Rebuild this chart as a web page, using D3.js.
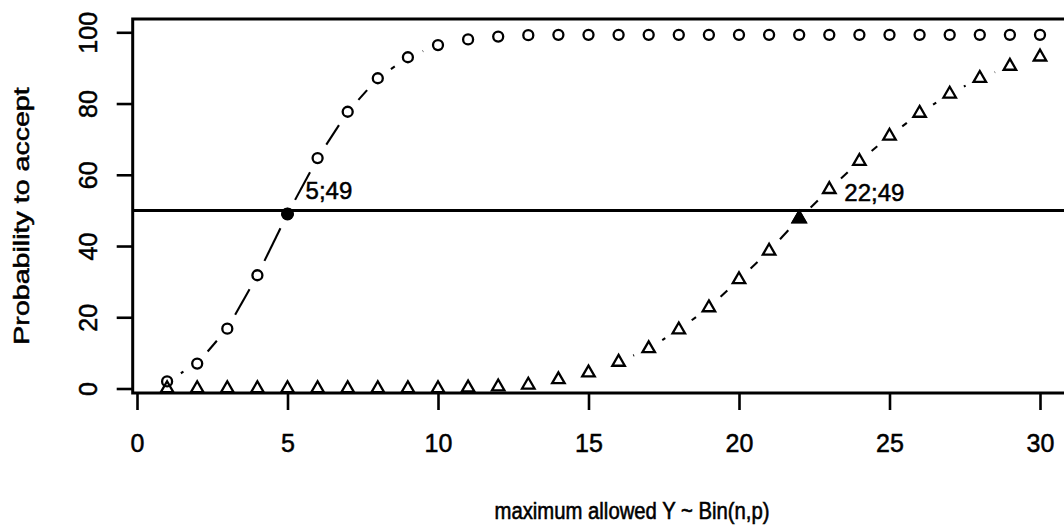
<!DOCTYPE html>
<html>
<head>
<meta charset="utf-8">
<script src="https://cdn.jsdelivr.net/npm/d3@7"></script>
<style>
  body { margin: 0; background: #fff; }
  text { font-family: "Liberation Sans", Arial, sans-serif; fill: #000; stroke: #000; stroke-width: 0.5; }
</style>
</head>
<body>
<script>
// maximum allowed Y (x positions)
let maxY = d3.range(1, 31)

// probability to accept (%), circles = first plan, triangles = second plan
let probCircle = [2.0, 7.0, 16.8, 31.8, 49.0, 64.7, 77.7, 87.1, 93.0, 96.4,
                  98.0, 98.8, 99.2, 99.3, 99.3, 99.3, 99.3, 99.3, 99.3, 99.3,
                  99.3, 99.3, 99.3, 99.3, 99.3, 99.3, 99.3, 99.3, 99.3, 99.3]
let probTriangle = [0, 0, 0, 0, 0, 0, 0, 0, 0, 0,
                    0.2, 0.5, 1.0, 2.5, 4.4, 7.4, 11.2, 16.5, 22.7, 30.6,
                    38.6, 47.7, 55.9, 63.8, 70.9, 77.3, 82.7, 87.1, 90.5, 93.1]

let xTicks = [0, 5, 10, 15, 20, 25, 30]
let yTicks = [0, 20, 40, 60, 80, 100]

let refLevel = 50
// highlighted points and their labels
let highlights = [
    { x: 5, y: 49, shape: "circle", label: "5;49", lx: 5.6, ly: 53.2 },
    { x: 22, y: 47.7, shape: "triangle", label: "22;49", lx: 23.5, ly: 52.6 }
]

let width = 1064,
    height = 525

let svg = d3.select("body").append("svg")
    .attr("width", width)
    .attr("height", height)

let x = d3.scaleLinear().domain([0, 30]).range([137, 1040])
let y = d3.scaleLinear().domain([0, 100]).range([388.5, 32.3])

let box = { left: 132.7, top: 19, right: 1070, bottom: 393 }

// plot frame
svg.append("rect")
    .attr("x", box.left)
    .attr("y", box.top)
    .attr("width", box.right - box.left)
    .attr("height", box.bottom - box.top)
    .attr("fill", "none")
    .attr("stroke", "#000")
    .attr("stroke-width", 3)

// x axis
let xAxis = svg.append("g")
    .attr("transform", `translate(0,${box.bottom})`)
    .call(d3.axisBottom(x).tickValues(xTicks).tickSize(17).tickPadding(24).tickSizeOuter(0))
xAxis.select(".domain").remove()
xAxis.selectAll("line").attr("stroke", "#000").attr("stroke-width", 2.6)
xAxis.selectAll("text")
    .attr("font-size", 25)
    .attr("font-family", "Liberation Sans, Arial, sans-serif")
    .attr("fill", "#000")

// y axis, labels rotated like R's default
let yAxis = svg.append("g")
    .attr("transform", `translate(${box.left},0)`)
    .call(d3.axisLeft(y).tickValues(yTicks).tickSize(16).tickSizeOuter(0))
yAxis.select(".domain").remove()
yAxis.selectAll("line").attr("stroke", "#000").attr("stroke-width", 2.6)
yAxis.selectAll("text")
    .attr("font-size", 25)
    .attr("font-family", "Liberation Sans, Arial, sans-serif")
    .attr("fill", "#000")
    .attr("x", null).attr("dy", null)
    .attr("text-anchor", "middle")
    .attr("transform", "translate(-36,0) rotate(-90)")

// axis titles
svg.append("text")
    .attr("transform", "translate(632,519) scale(1,1.18)")
    .attr("text-anchor", "middle")
    .attr("font-size", 20.3)
    .text("maximum allowed Y ~ Bin(n,p)")

svg.append("text")
    .attr("transform", "translate(29,216) rotate(-90) scale(1.3,1)")
    .attr("text-anchor", "middle")
    .attr("font-size", 22)
    .text("Probability to accept")

// reference line at 50%
svg.append("line")
    .attr("x1", box.left).attr("x2", box.right)
    .attr("y1", y(refLevel)).attr("y2", y(refLevel))
    .attr("stroke", "#000")
    .attr("stroke-width", 3)

// type="b" style: segments with a gap around each point
function gappedSegments(values, gap) {
    let segs = []
    for (let i = 1; i < values.length; i++) {
        let x0 = x(maxY[i - 1]), y0 = y(values[i - 1])
        let x1 = x(maxY[i]), y1 = y(values[i])
        let len = Math.hypot(x1 - x0, y1 - y0)
        if (len <= 2 * gap) continue
        let ux = (x1 - x0) / len, uy = (y1 - y0) / len
        segs.push([x0 + ux * gap, y0 + uy * gap, x1 - ux * gap, y1 - uy * gap])
    }
    return segs
}

function trianglePath(side) {
    let h = side * Math.sqrt(3) / 2
    return `M0,${-2 * h / 3}L${side / 2},${h / 3}L${-side / 2},${h / 3}Z`
}

let series = [
    { values: probCircle, shape: "circle" },
    { values: probTriangle, shape: "triangle" }
]

series.forEach(s => {
    let g = svg.append("g")
    g.selectAll("line")
        .data(gappedSegments(s.values, 16))
        .enter()
        .append("line")
        .attr("x1", d => d[0]).attr("y1", d => d[1])
        .attr("x2", d => d[2]).attr("y2", d => d[3])
        .attr("stroke", "#000")
        .attr("stroke-width", 2.1)

    let pts = g.selectAll(".pt")
        .data(s.values)
        .enter()
    if (s.shape === "circle") {
        pts.append("circle")
            .attr("cx", (d, i) => x(maxY[i]))
            .attr("cy", d => y(d))
            .attr("r", 5)
            .attr("fill", "none")
            .attr("stroke", "#000")
            .attr("stroke-width", 2.3)
    } else {
        pts.append("path")
            .attr("d", trianglePath(12.5))
            .attr("transform", (d, i) => `translate(${x(maxY[i])},${y(d)})`)
            .attr("fill", "none")
            .attr("stroke", "#000")
            .attr("stroke-width", 2.3)
            .attr("stroke-linejoin", "miter")
    }
})

// filled points where the curves cross 50%
highlights.forEach(h => {
    if (h.shape === "circle") {
        svg.append("circle")
            .attr("cx", x(h.x)).attr("cy", y(h.y))
            .attr("r", 6.5)
            .attr("fill", "#000")
    } else {
        svg.append("path")
            .attr("d", trianglePath(17))
            .attr("transform", `translate(${x(h.x)},${y(h.y)})`)
            .attr("fill", "#000")
    }
    svg.append("text")
        .attr("x", x(h.lx))
        .attr("y", y(h.ly))
        .attr("font-size", 24)
        .text(h.label)
})
</script>
</body>
</html>
